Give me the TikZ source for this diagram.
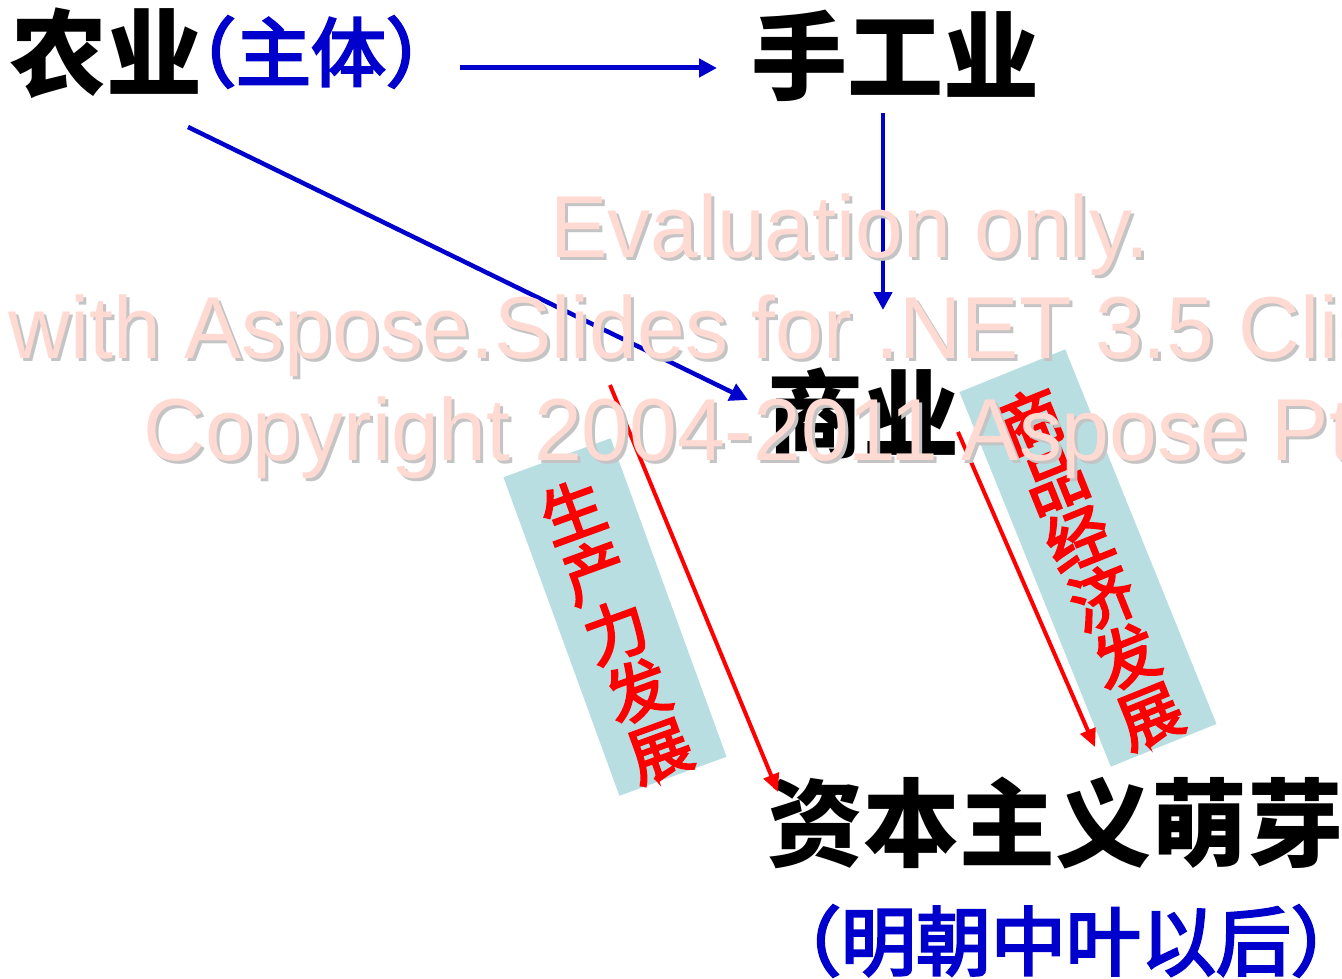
\documentclass[tikz,border=0pt]{standalone}
\usepackage{fontspec}
\newfontfamily\cjkb{Noto Sans CJK SC}
\newfontfamily\cjkh{Noto Sans CJK SC}[FakeBold=3.5,RawFeature=+halt]
\newfontfamily\cjkr{Noto Sans CJK SC}[FakeBold=3.5]
\newfontfamily\wmfont{Liberation Sans}
\usetikzlibrary{arrows.meta}
\definecolor{myblue}{RGB}{0,0,204}
\definecolor{myred}{RGB}{255,0,0}
\definecolor{boxfill}{RGB}{184,222,226}
\definecolor{wmpink}{RGB}{255,218,210}
\definecolor{wmgray}{RGB}{196,196,196}
\begin{document}
\begin{tikzpicture}[x=1pt,y=-1pt,
  bigtext/.style={font=\cjkb\bfseries\fontsize{96}{96}\selectfont, text=black, inner sep=0pt},
  bluetext/.style={font=\cjkh\fontsize{75}{75}\selectfont, text=myblue, inner sep=0pt},
  vbox/.style={fill=boxfill, inner sep=0pt},
  vtext/.style={text=myred, align=center, inner sep=0pt},
  bluearrow/.style={draw=myblue, line width=5pt, -{Triangle[length=18pt,width=18pt]}},
  redarrow/.style={draw=myred, line width=4pt, -{Triangle[length=18pt,width=16pt]}},
  wmtext/.style={font=\wmfont\fontsize{88}{88}\selectfont, inner sep=0pt, anchor=base west, xscale=0.975},
]
\useasboundingbox (0,0) rectangle (1342,979);

% rotated boxes
\node[vbox, rotate=20, minimum width=114pt, minimum height=339pt] (b1) at (615,617) {};
\node[vtext, rotate=20, font=\cjkr\fontsize{63}{63.5}\selectfont] (t1) at (616,631)
      {生\\产\\力\\发\\展};
\node[vbox, rotate=22, minimum width=114pt, minimum height=404pt] (b2) at (1088,558) {};
\node[vtext, rotate=22, font=\cjkr\fontsize{64}{63.6}\selectfont] (t2) at (1090,568)
      {商\\品\\经\\济\\发\\展};

% main texts
\node[bigtext] (nongye) at (106,53) {农业};
\node[bluetext] (zhuti) at (311,52) {（主体）};
\node[bigtext] (shougong) at (895,56) {手工业};
\node[bigtext] (shangye) at (863,414) {商业};
\node[bigtext] (ziben) at (1055,823) {资本主义萌芽};
\node[bluetext] (ming) at (1066,941) {（明朝中叶以后）};

% connector end points
\coordinate (h1) at (460,68);
\coordinate (h2) at (717,68);
\coordinate (v1) at (883,113);
\coordinate (v2) at (883,310);
\coordinate (d1) at (188,127);
\coordinate (d2) at (748,400);
\coordinate (r1a) at (610,385);
\coordinate (r1b) at (778,792);
\coordinate (r2a) at (958,432);
\coordinate (r2b) at (1095,747);

\draw[bluearrow] (h1) -- (h2);
\draw[bluearrow, line width=4.5pt] (v1) -- (v2);
\draw[bluearrow, line width=4.5pt] (d1) -- (d2);
\draw[redarrow] (r1a) -- (r1b);
\draw[redarrow] (r2a) -- (r2b);

% watermark
\begin{scope}
\clip (0,0) rectangle (1342,979);
\node[wmtext, text=wmgray] (w1s) at (553,260) {Evaluation only.};
\node[wmtext, text=wmpink] (w1) at (550,257) {Evaluation only.};
\node[wmtext, text=wmgray] (w2s) at (11,361) {with Aspose.Slides for .NET 3.5 Clie};
\node[wmtext, text=wmpink] (w2) at (8,358) {with Aspose.Slides for .NET 3.5 Clie};
\node[wmtext, text=wmgray] (w3s) at (146,463) {Copyright 2004-2011 Aspose Pt};
\node[wmtext, text=wmpink] (w3) at (143,460) {Copyright 2004-2011 Aspose Pt};
\end{scope}
\end{tikzpicture}
\end{document}
